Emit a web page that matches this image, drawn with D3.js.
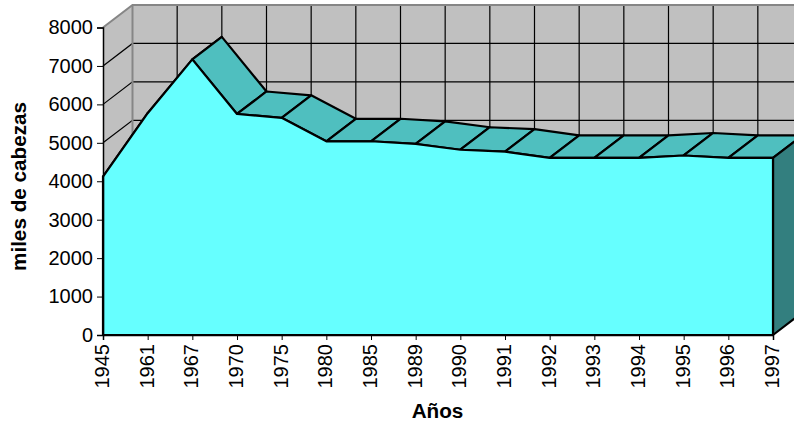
<!DOCTYPE html>
<html><head><meta charset="utf-8">
<script src="https://cdn.jsdelivr.net/npm/d3@7/dist/d3.min.js"></script>
<style>html,body{margin:0;padding:0;background:#fff}svg{display:block}text{font-family:"Liberation Sans",Arial,sans-serif;fill:#000}</style>
</head><body><div id="c"></div>
<script>
const years=["1945","1961","1967","1970","1975","1980","1985","1989","1990","1991","1992","1993","1994","1995","1996","1997"];
const heads=[4120,5770,7170,5750,5650,5040,5040,4970,4820,4770,4610,4610,4610,4670,4610,4610];
const yTicks=[0,1000,2000,3000,4000,5000,6000,7000,8000];
const W=794,H=428,dx=29.5,dy=-22.5;
const svg=d3.select("#c").append("svg").attr("width",W).attr("height",H);
const x=d3.scalePoint().domain(years).range([103,773]);
const y=d3.scaleLinear().domain([0,8000]).range([335,27.5]);
const pts=a=>a.map(p=>p.join(",")).join(" ");
const x0=x.range()[0],x1=x.range()[1],y0=y(0),yT=y(8000);
// walls
svg.append("polygon").attr("points",pts([[x0,y0],[x0,yT],[x0+dx,yT+dy],[x0+dx,y0+dy]])).attr("fill","#c0c0c0");
svg.append("rect").attr("x",x0+dx).attr("y",yT+dy).attr("width",x1-x0).attr("height",y0-yT).attr("fill","#c0c0c0");
// gridlines
const g=svg.append("g").attr("stroke","#000").attr("stroke-width",1.2).attr("fill","none");
yTicks.slice(1,-1).forEach(t=>{
  g.append("path").attr("d",d3.line()([[x0,y(t)],[x0+dx,y(t)+dy],[x1+dx,y(t)+dy]]));
});
years.slice(1).forEach(c=>{
  g.append("line").attr("x1",x(c)+dx).attr("x2",x(c)+dx).attr("y1",yT+dy).attr("y2",y0+dy);
});
// wall edges
const e=svg.append("g").attr("stroke","#868686").attr("stroke-width",2).attr("fill","none");
e.append("path").attr("d",d3.line()([[x0,yT],[x0+dx,yT+dy],[x1+dx,yT+dy]]));
e.append("line").attr("x1",x0+dx).attr("x2",x0+dx).attr("y1",yT+dy).attr("y2",y0+dy);
// ribbon
const s=svg.append("g").attr("stroke","#000").attr("stroke-width",2.2).attr("stroke-linejoin","round");
years.slice(0,-1).forEach((c,i)=>{
  const a=[x(c),y(heads[i])],b=[x(years[i+1]),y(heads[i+1])];
  s.append("polygon").attr("points",pts([a,b,[b[0]+dx,b[1]+dy],[a[0]+dx,a[1]+dy]])).attr("fill","#4fbfbf");
});
// right side
const n=years.length-1,yl=y(heads[n]);
s.append("polygon").attr("points",pts([[x1,yl],[x1+dx,yl+dy],[x1+dx,y0+dy],[x1,y0]])).attr("fill","#337f7f");
// front
const area=d3.area().x((d,i)=>x(years[i])).y0(y0).y1(d=>y(d));
s.append("path").attr("d",area(heads)).attr("fill","#66ffff");
// axes
const ax=svg.append("g").attr("transform",`translate(${x0},0)`).call(d3.axisLeft(y).tickValues(yTicks).tickSize(6).tickPadding(4).tickFormat(d3.format("d")));
ax.select(".domain").attr("stroke","#000").attr("stroke-width",1.5);
ax.selectAll("text").attr("font-size",20).style("font-family",'"Liberation Sans",Arial,sans-serif');
const bx=svg.append("g").attr("transform",`translate(0,${y0})`).call(d3.axisBottom(x).tickSize(5));
bx.select(".domain").attr("stroke","#000").attr("stroke-width",1.5);
bx.selectAll("text").attr("font-size",20).style("font-family",'"Liberation Sans",Arial,sans-serif')
  .attr("transform","rotate(-90)").attr("x",-9).attr("y",-1.5).attr("dy","0.35em").attr("text-anchor","end");
svg.append("text").attr("transform","translate(26,186.5) rotate(-90)").attr("text-anchor","middle").attr("font-size",20.7).attr("font-weight","bold").text("miles de cabezas");
svg.append("text").attr("x",437.5).attr("y",418).attr("text-anchor","middle").attr("font-size",20.7).attr("font-weight","bold").text("Años");
</script></body></html>
